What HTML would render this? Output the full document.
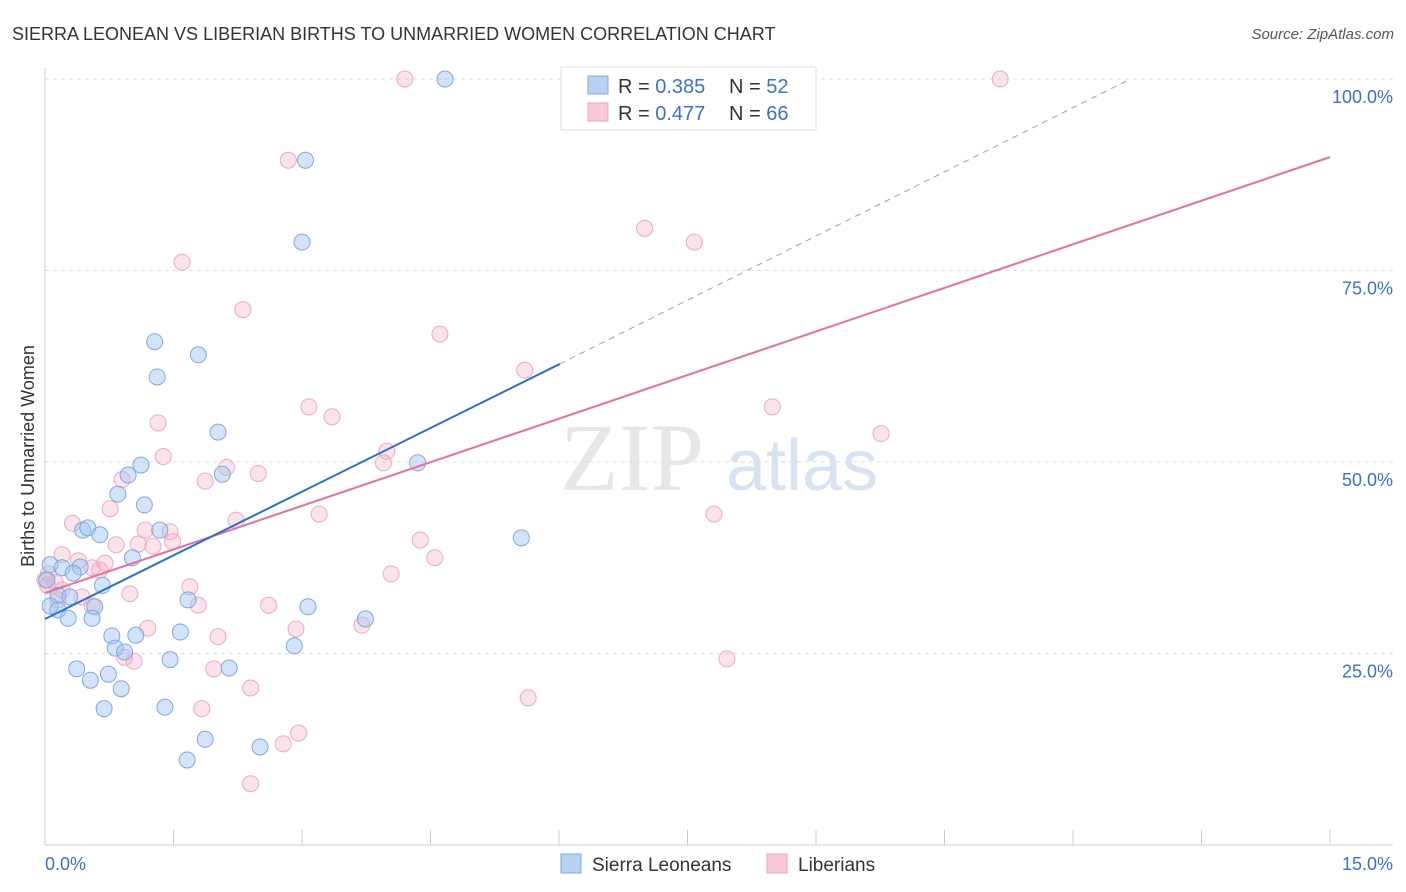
<!DOCTYPE html>
<html><head><meta charset="utf-8"><style>
body{margin:0;background:#fff;font-family:"Liberation Sans",sans-serif;}
svg{display:block}
</style></head><body>
<svg id="chart" width="1406" height="892">
<text x="12" y="40" font-size="18" fill="#333">SIERRA LEONEAN VS LIBERIAN BIRTHS TO UNMARRIED WOMEN CORRELATION CHART</text>
<text x="1394" y="39" font-size="15" fill="#555" text-anchor="end" font-style="italic">Source: ZipAtlas.com</text>
<g><text x="632" y="490" font-size="96" fill="#e6e6e6" text-anchor="middle" font-family="Liberation Serif,serif">ZIP</text><text x="802" y="490" font-size="72" fill="#d6e3f3" text-anchor="middle">atlas</text></g>
<g id="grid"></g><g id="axes"></g><g id="marks"></g>
<text transform="translate(34,456) rotate(-90)" font-size="18" fill="#333" text-anchor="middle">Births to Unmarried Women</text>
<g>
<rect x="561" y="67" width="255" height="63" fill="#fff" stroke="#ddd"/>
<rect x="588" y="76" width="20" height="18" fill="#b8d1f3" stroke="#7fa8e0"/>
<text x="618" y="93" font-size="20" fill="#333">R = <tspan fill="#3b6fd4">0.385</tspan></text>
<text x="729" y="93" font-size="20" fill="#333">N = <tspan fill="#3b6fd4">52</tspan></text>
<rect x="588" y="103" width="20" height="18" fill="#f9c8d8" stroke="#f0a0bc"/>
<text x="618" y="120" font-size="20" fill="#333">R = <tspan fill="#3b6fd4">0.477</tspan></text>
<text x="729" y="120" font-size="20" fill="#333">N = <tspan fill="#3b6fd4">66</tspan></text>
</g>
<g>
<rect x="561" y="854" width="20" height="19" fill="#b8d1f3" stroke="#7fa8e0"/>
<text x="592" y="871" font-size="19" fill="#333">Sierra Leoneans</text>
<rect x="767" y="854" width="20" height="19" fill="#f9c8d8" stroke="#f0a0bc"/>
<text x="798" y="871" font-size="19" fill="#333">Liberians</text>
</g>
</svg>
<script>
const xTicks=[0,1.5,3,4.5,6,7.5,9,10.5,12,13.5,15];
const yTicks=[25,50,75,100];
const yTickLabels=["25.0%","50.0%","75.0%","100.0%"];
const blueX=[4.67,3.04,3.00,1.28,1.79,1.31,2.02,1.12,0.97,2.07,0.85,1.16,4.35,0.44,0.50,0.64,1.34,5.56,1.02,0.06,0.20,0.41,0.33,0.67,0.15,0.29,0.06,0.15,0.58,1.67,3.07,0.55,0.27,3.74,0.78,1.06,1.58,2.91,0.82,0.93,0.37,0.74,1.46,2.15,0.53,0.89,0.69,1.40,1.87,2.51,1.66,0.02];
const blueY=[100,89.4,78.7,65.7,64.0,61.1,53.9,49.6,48.3,48.4,45.8,44.4,49.9,41.1,41.4,40.5,41.1,40.1,37.5,36.6,36.2,36.3,35.5,33.9,32.6,32.4,31.2,30.7,31.1,32.0,31.1,29.6,29.6,29.5,27.3,27.4,27.8,26.0,25.7,25.2,23.0,22.3,24.2,23.1,21.5,20.4,17.8,18.0,13.8,12.8,11.1,34.6];
const pinkX=[4.20,11.15,2.84,7.00,7.58,1.60,2.31,4.61,5.60,3.08,3.35,8.49,1.32,9.76,1.38,3.99,3.95,2.12,2.49,1.87,0.90,0.76,3.20,2.23,7.81,0.32,1.17,1.46,1.49,1.26,1.09,0.83,4.38,4.55,0.20,0.39,0.70,0.55,0.64,4.04,1.69,0.43,0.99,0.55,1.79,2.61,0.12,0.04,0.20,1.20,2.93,2.02,3.70,0.93,1.04,1.97,2.40,5.64,7.96,1.83,2.96,2.78,2.40,0.00,0.03,0.15];
const pinkY=[100,100,89.4,80.5,78.7,76.1,69.9,66.7,62.0,57.2,55.9,57.2,55.1,53.7,50.7,51.4,49.9,49.3,48.5,47.5,47.7,43.9,43.2,42.4,43.2,42.0,41.1,40.9,39.6,39.0,39.3,39.2,39.8,37.5,37.9,37.1,36.8,36.2,35.9,35.4,33.7,32.4,32.8,31.2,31.3,31.3,34.3,35.4,33.3,28.3,28.2,27.2,28.7,24.5,24.0,23.0,20.5,19.2,24.3,17.8,14.6,13.2,8.0,34.6,33.9,32.0];
const blueTrend=[[0,29.5],[6.01,62.8]];
const blueTrendExt=[[6.01,62.8],[12.67,100]];
const pinkTrend=[[0,32.9],[15,89.8]];
const NS="http://www.w3.org/2000/svg";
const sx=v=>45+v*(1285/15);
const sy=v=>845-v*7.66;
function mk(parent,tag,attrs){const e=document.createElementNS(NS,tag);for(const k in attrs)e.setAttribute(k,attrs[k]);document.getElementById(parent).appendChild(e);return e;}
yTicks.forEach((t,i)=>{
 const g=mk('grid','line',{x1:45,x2:1393,y1:sy(t),y2:sy(t),stroke:'#ddd','stroke-dasharray':'4,4'});
 
 
 const l=mk('axes','text',{x:1393,y:sy(t)+24,'font-size':18,fill:'#3b6fd4','text-anchor':'end'});
 l.textContent=yTickLabels[i];
 
 
});
const xa=mk('axes','line',{x1:45,x2:1393,y1:845,y2:845,stroke:'#ccc'});


const ya=mk('axes','line',{x1:45,x2:45,y1:68,y2:845,stroke:'#ccc'});


xTicks.forEach(t=>{
 const k=mk('axes','line',{x1:sx(t),x2:sx(t),y1:830,y2:845,stroke:'#ccc'});
 
 
});
const x0=mk('axes','text',{x:45,y:870,'font-size':18,fill:'#3b6fd4'});x0.textContent=xTicks[0].toFixed(1)+'%';


const x1=mk('axes','text',{x:1393,y:870,'font-size':18,fill:'#3b6fd4','text-anchor':'end'});x1.textContent=xTicks[xTicks.length-1].toFixed(1)+'%';


pinkX.forEach((v,i)=>{
 const c=mk('marks','circle',{cx:sx(v),cy:sy(pinkY[i]),r:8,fill:'rgba(244,176,200,0.35)',stroke:'#f0a8c0','stroke-width':1});
 
 
});
blueX.forEach((v,i)=>{
 const c=mk('marks','circle',{cx:sx(v),cy:sy(blueY[i]),r:8,fill:'rgba(160,196,240,0.45)',stroke:'#7fa8e0','stroke-width':1});
 
 
});
const pt=mk('marks','line',{x1:sx(pinkTrend[0][0]),y1:sy(pinkTrend[0][1]),x2:sx(pinkTrend[1][0]),y2:sy(pinkTrend[1][1]),stroke:'#e8709a','stroke-width':2});


const bt=mk('marks','line',{x1:sx(blueTrend[0][0]),y1:sy(blueTrend[0][1]),x2:sx(blueTrend[1][0]),y2:sy(blueTrend[1][1]),stroke:'#2a6fd6','stroke-width':2});


const be=mk('marks','line',{x1:sx(blueTrendExt[0][0]),y1:sy(blueTrendExt[0][1]),x2:sx(blueTrendExt[1][0]),y2:sy(blueTrendExt[1][1]),stroke:'#7fa8e0','stroke-width':1,'stroke-dasharray':'6,5'});


</script>
</body></html>
